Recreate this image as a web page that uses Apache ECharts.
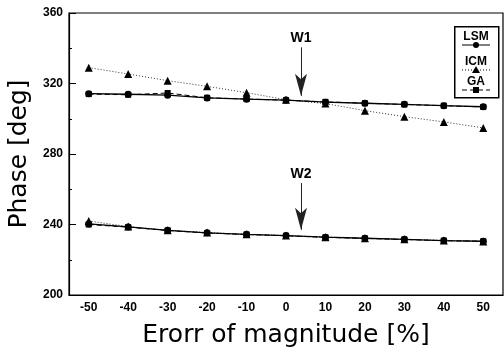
<!DOCTYPE html>
<html>
<head>
<meta charset="utf-8">
<script src="https://cdn.jsdelivr.net/npm/echarts@6/dist/echarts.min.js"></script>
<style>
  html, body { margin: 0; padding: 0; background: #fff; }
  #main { width: 504px; height: 353px; }
</style>
</head>
<body>
<div id="main"></div>
<script>
// error of magnitude [%]
var errors = ['-50', '-40', '-30', '-20', '-10', '0', '10', '20', '30', '40', '50'];

// W1 phase [deg]
var lsmW1 = [314.2, 313.9, 313.4, 311.8, 311.1, 310.6, 309.4, 308.8, 308.2, 307.4, 306.8];
var icmW1 = [329.0, 325.4, 321.6, 318.4, 314.8, 310.8, 308.6, 304.6, 301.2, 298.2, 294.8];
var gaW1  = [314.0, 313.6, 314.6, 311.9, 311.2, 310.5, 309.6, 308.8, 308.1, 307.4, 306.7];

// W2 phase [deg]
var lsmW2 = [240.3, 238.6, 236.7, 235.3, 234.4, 233.7, 232.8, 232.2, 231.6, 230.9, 230.5];
var icmW2 = [242.0, 238.8, 236.8, 235.4, 234.4, 233.7, 232.8, 232.2, 231.6, 230.9, 230.4];
var gaW2  = [240.0, 238.5, 236.6, 235.2, 234.3, 233.6, 232.7, 232.1, 231.5, 230.8, 230.5];

var yTicks = [200, 240, 280, 320, 360];

// arrows: [x, yStart, yEnd, label]
var arrows = [[3.8, 340.5, 313, 'W1'], [3.8, 263.5, 237, 'W2']];

var font = 'Liberation Sans, Arial, sans-serif';
var titleFont = 'DejaVu Sans, sans-serif';

function lsm(data) {
    return {
        type: 'line', data: data, xAxisIndex: 0,
        symbol: 'circle', symbolSize: 7,
        itemStyle: { color: '#000' },
        lineStyle: { color: '#000', width: 1.3, type: 'solid' },
        z: 3
    };
}
function icm(data) {
    return {
        type: 'line', data: data, xAxisIndex: 0,
        symbol: 'triangle', symbolSize: 8,
        itemStyle: { color: '#000' },
        lineStyle: { color: '#333', width: 1, type: [1, 2] },
        z: 2
    };
}
function ga(data) {
    return {
        type: 'line', data: data, xAxisIndex: 0,
        symbol: 'rect', symbolSize: 6,
        itemStyle: { color: '#000' },
        lineStyle: { color: '#000', width: 1, type: [5, 3] },
        z: 2
    };
}

var myChart = echarts.init(document.getElementById('main'));

var arrowSeries = {
    type: 'line', xAxisIndex: 1, yAxisIndex: 0, data: [],
    markLine: {
        silent: true,
        symbol: ['none', 'arrow'],
        symbolSize: [9, 22],
        lineStyle: { color: '#222', width: 1, type: 'solid' },
        label: {
            show: true, position: 'start', distance: 2, color: '#000',
            fontFamily: font, fontWeight: 'bold', fontSize: 14,
            formatter: function (p) { return p.data.name; }
        },
        data: arrows.map(function (a) {
            return [
                { coord: [a[0], a[1]], name: a[3] },
                { coord: [a[0], a[2]] }
            ];
        })
    }
};

// legend box drawn as graphics (text above each line sample)
var legendItems = [
    { text: 'LSM', y: 37, symbol: 'circle', dash: null },
    { text: 'ICM', y: 62, symbol: 'triangle', dash: [1, 2] },
    { text: 'GA',  y: 82, symbol: 'square', dash: [5, 3] }
];
var legendGraphic = [{
    type: 'rect', left: 454, top: 26,
    shape: { width: 44, height: 71 },
    style: { fill: '#fff', stroke: '#000', lineWidth: 1.5 },
    z: 10
}];
legendItems.forEach(function (it) {
    legendGraphic.push({
        type: 'text', x: 476, y: it.y, z: 11,
        style: {
            text: it.text, fill: '#000', font: 'bold 12px ' + font,
            align: 'center', verticalAlign: 'middle'
        }
    });
    var ly = it.y + 8;
    legendGraphic.push({
        type: 'line', z: 11,
        shape: { x1: 462, y1: ly, x2: 490, y2: ly },
        style: { stroke: '#000', lineWidth: 1, lineDash: it.dash }
    });
    var shape;
    if (it.symbol === 'circle') {
        shape = { type: 'circle', shape: { cx: 476, cy: ly, r: 3 } };
    } else if (it.symbol === 'triangle') {
        shape = { type: 'polygon', shape: { points: [[476, ly - 4], [472, ly + 3], [480, ly + 3]] } };
    } else {
        shape = { type: 'rect', shape: { x: 473, y: ly - 3, width: 6, height: 6 } };
    }
    shape.z = 12;
    shape.style = { fill: '#000' };
    legendGraphic.push(shape);
});

var option = {
    backgroundColor: '#fff',
    animation: false,
    grid: {
        left: 69, top: 13, right: 1, bottom: 58,
        outerBoundsMode: 'none',
        containLabel: false,
        show: true, borderColor: '#000', borderWidth: 1.2
    },
    xAxis: [{
        type: 'category',
        data: errors,
        boundaryGap: true,
        name: 'Erorr of magnitude [%]',
        nameLocation: 'middle',
        nameGap: 28,
        nameTextStyle: { fontFamily: titleFont, fontSize: 25, color: '#000' },
        axisLine: { lineStyle: { color: '#000', width: 1.2 } },
        axisTick: { alignWithLabel: true, inside: true, length: 7, lineStyle: { color: '#000' } },
        axisLabel: { fontFamily: font, fontWeight: 'bold', fontSize: 12, color: '#000', margin: 7 },
        splitLine: { show: false }
    }, {
        type: 'value', min: -55, max: 55, show: false
    }],
    yAxis: {
        type: 'value',
        min: yTicks[0],
        max: yTicks[yTicks.length - 1],
        interval: 40,
        name: 'Phase [deg]',
        nameLocation: 'middle',
        nameGap: 37,
        nameTextStyle: { fontFamily: titleFont, fontSize: 25, color: '#000' },
        axisLine: { show: true, onZero: false, lineStyle: { color: '#000', width: 1.2 } },
        axisTick: { show: true, inside: true, length: 7, lineStyle: { color: '#000' } },
        minorTick: { show: true, splitNumber: 2, length: 3, lineStyle: { color: '#000' } },
        axisLabel: { fontFamily: font, fontWeight: 'bold', fontSize: 12, color: '#000', margin: 6 },
        splitLine: { show: false }
    },
    graphic: legendGraphic,
    series: [
        lsm(lsmW1), icm(icmW1), ga(gaW1),
        lsm(lsmW2), icm(icmW2), ga(gaW2),
        arrowSeries
    ]
};
myChart.setOption(option);
</script>
</body>
</html>
